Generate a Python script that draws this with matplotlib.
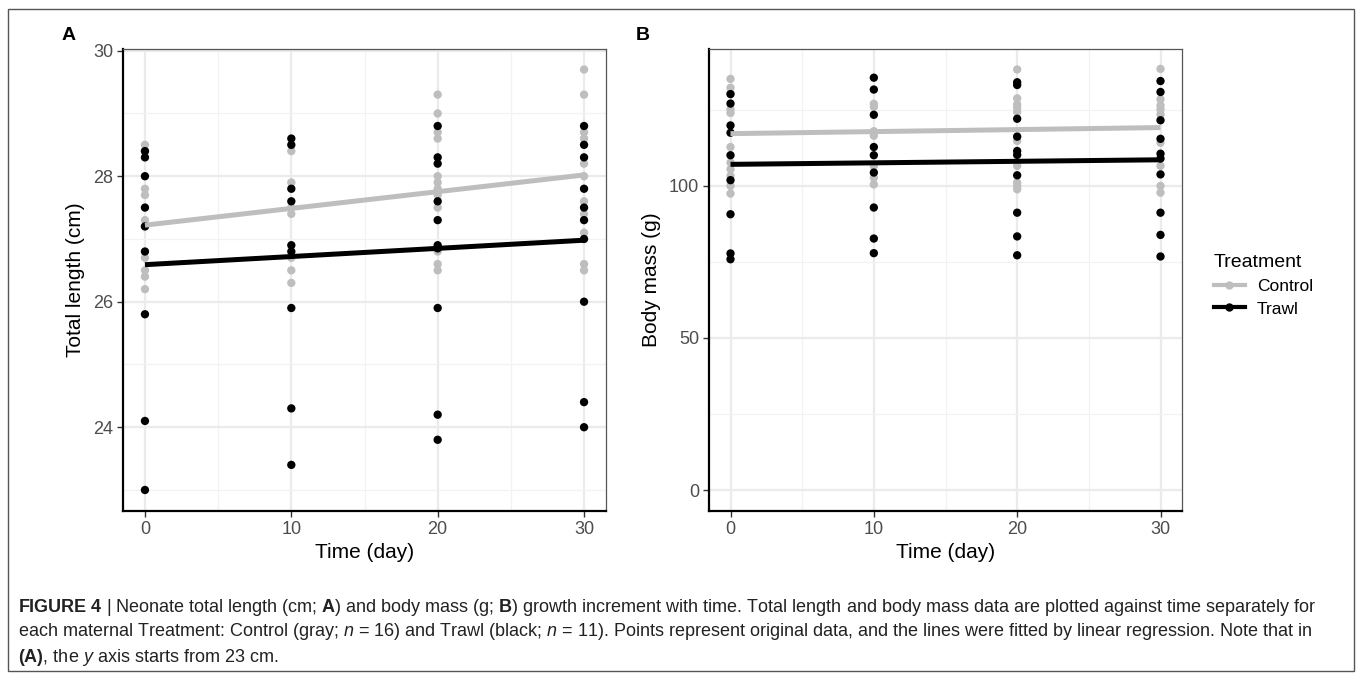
import numpy as np
import matplotlib
matplotlib.use('Agg')
from matplotlib import pyplot as plt
from matplotlib.lines import Line2D
from matplotlib.patches import Rectangle

plt.rcParams['font.family'] = ['Liberation Sans', 'DejaVu Sans']
plt.rcParams['mathtext.fontset'] = 'custom'
plt.rcParams['mathtext.rm'] = 'Liberation Sans'
plt.rcParams['mathtext.it'] = 'Liberation Sans:italic'
plt.rcParams['mathtext.bf'] = 'Liberation Sans:bold'

# ---- data ----
days = [0, 10, 20, 30]

# total length (cm), one list per day
len_control = [
    [28.5, 28.4, 27.8, 27.7, 27.3, 27.2, 26.7, 26.5, 26.4, 26.2],
    [28.4, 27.9, 27.5, 27.4, 26.7, 26.5, 26.3],
    [29.3, 29.0, 28.7, 28.6, 28.0, 27.9, 27.8, 27.7, 27.5, 26.8, 26.6, 26.5],
    [29.7, 29.3, 28.7, 28.6, 28.2, 28.0, 27.6, 27.4, 27.1, 26.6, 26.5],
]
len_trawl = [
    [28.4, 28.3, 28.0, 27.5, 27.2, 26.8, 25.8, 24.1, 23.0],
    [28.6, 28.5, 27.8, 27.6, 26.9, 26.8, 25.9, 24.3, 23.4],
    [28.8, 28.3, 28.2, 27.6, 27.3, 26.9, 26.85, 25.9, 24.2, 23.8],
    [28.8, 28.5, 28.3, 27.8, 27.5, 27.3, 27.0, 26.0, 24.4, 24.0],
]

# body mass (g), one list per day
mass_control = [
    [135.2, 132.3, 130.5, 125.2, 124.0, 112.8, 107.7, 105.5, 103.3, 100.0, 97.5],
    [127.0, 126.0, 118.0, 116.5, 106.5, 102.7, 100.5],
    [138.3, 128.8, 126.8, 125.7, 124.3, 116.4, 114.8, 106.6, 101.1, 100.0, 98.9],
    [138.5, 128.5, 126.5, 125.2, 123.5, 114.2, 106.6, 100.0, 97.8],
]
mass_trawl = [
    [130.2, 127.1, 119.9, 117.5, 110.1, 101.9, 90.7, 77.8, 75.9],
    [135.6, 131.7, 123.4, 112.8, 110.1, 104.4, 92.9, 82.7, 77.9],
    [134.1, 133.2, 122.1, 116.2, 111.5, 110.2, 103.5, 91.2, 83.4, 77.2],
    [134.5, 130.9, 121.6, 115.5, 110.6, 109.0, 103.8, 91.2, 83.9, 76.8],
]

# fitted regression lines, values at day 0 and day 30
fit_days = [0, 30]
fit_len_control = [27.22, 28.02]
fit_len_trawl = [26.59, 26.98]
fit_mass_control = [117.2, 119.2]
fit_mass_trawl = [107.1, 108.6]

GRAY = '#BEBEBE'

W, H = 1357, 679
fig = plt.figure(figsize=(W / 100, H / 100), dpi=100)


def px_axes(l, t, r, b):
    return fig.add_axes([l / W, 1 - b / H, (r - l) / W, (b - t) / H])


def flat(groups):
    xs = np.concatenate([[d] * len(g) for d, g in zip(days, groups)])
    ys = np.concatenate(groups)
    return xs, ys


def style(ax, ymin, ymax, yticks, yminor):
    ax.set_xlim(-1.5, 31.5)
    ax.set_ylim(ymin, ymax)
    ax.set_xticks([0, 10, 20, 30])
    ax.set_xticks([5, 15, 25], minor=True)
    ax.set_yticks(yticks)
    ax.set_yticks(yminor, minor=True)
    ax.grid(True, which='major', color='#EBEBEB', lw=1.6, zorder=0)
    ax.grid(True, which='minor', color='#F2F2F2', lw=0.9, zorder=0)
    ax.set_axisbelow(True)
    ax.tick_params(which='minor', length=0)
    ax.tick_params(which='major', length=4, width=1, color='#333333',
                   labelsize=13, labelcolor='#4D4D4D', pad=3)
    for s in ['top', 'right']:
        ax.spines[s].set_color('#555555')
        ax.spines[s].set_linewidth(0.9)
    for s in ['left', 'bottom']:
        ax.spines[s].set_color('black')
        ax.spines[s].set_linewidth(1.6)
    ax.set_xlabel('Time (day)', fontsize=15, labelpad=4)


def draw(ax, ctrl, trawl, fit_c, fit_t):
    x, y = flat(ctrl)
    ax.scatter(x, y, s=36, color=GRAY, edgecolors='none', zorder=3)
    x, y = flat(trawl)
    ax.scatter(x, y, s=36, color='black', edgecolors='none', zorder=4)
    ax.plot(fit_days, fit_c, color=GRAY, lw=3.6, solid_capstyle='butt', zorder=5)
    ax.plot(fit_days, fit_t, color='black', lw=3.6, solid_capstyle='butt', zorder=6)


# panel A
axA = px_axes(123, 48.5, 606, 511)
draw(axA, len_control, len_trawl, fit_len_control, fit_len_trawl)
style(axA, 22.665, 30.035, [24, 26, 28, 30], [23, 25, 27, 29])
axA.set_ylabel('Total length (cm)', fontsize=15, labelpad=6)

# panel B
axB = px_axes(709, 48.5, 1182, 511)
draw(axB, mass_control, mass_trawl, fit_mass_control, fit_mass_trawl)
style(axB, -6.9, 145.2, [0, 50, 100], [25, 75, 125])
axB.set_ylabel('Body mass (g)', fontsize=15, labelpad=6)

fig.text(69 / W, 1 - 36 / H, 'A', fontsize=14, fontweight='bold', ha='center', va='center')
fig.text(643 / W, 1 - 36 / H, 'B', fontsize=14, fontweight='bold', ha='center', va='center')

# legend
handles = [Line2D([], [], color=GRAY, lw=3, marker='o', ms=5),
           Line2D([], [], color='black', lw=3, marker='o', ms=5)]
fig.legend(handles, ['Control', 'Trawl'], title='Treatment', loc='upper left',
           bbox_to_anchor=(1198 / W, 1 - 238 / H), frameon=False,
           fontsize=12.5, title_fontsize=14, alignment='left',
           handlelength=1.8, handletextpad=0.7, labelspacing=0.45)

# outer frame
fig.patches.append(Rectangle((8 / W, 1 - 671 / H), (1354 - 8) / W, (671 - 9) / H,
                             transform=fig.transFigure, fill=False,
                             edgecolor='#555555', lw=1))

# caption
cap = [
    r'$\mathbf{FIGURE\ 4}$ | Neonate total length (cm; $\mathbf{A}$) and body mass (g; $\mathbf{B}$) '
    r'growth increment with time. Total length and body mass data are plotted against time separately for',
    r'each maternal Treatment: Control (gray; $\mathit{n}$ = 16) and Trawl (black; $\mathit{n}$ = 11). '
    r'Points represent original data, and the lines were fitted by linear regression. Note that in',
    r'$\mathbf{(A)}$, the $\mathit{y}$ axis starts from 23 cm.',
]
for i, line in enumerate(cap):
    fig.text(18 / W, 1 - (607 + 25 * i) / H, line, fontsize=13, color='#222222',
             ha='left', va='center')

plt.savefig('out.png', dpi=100)
